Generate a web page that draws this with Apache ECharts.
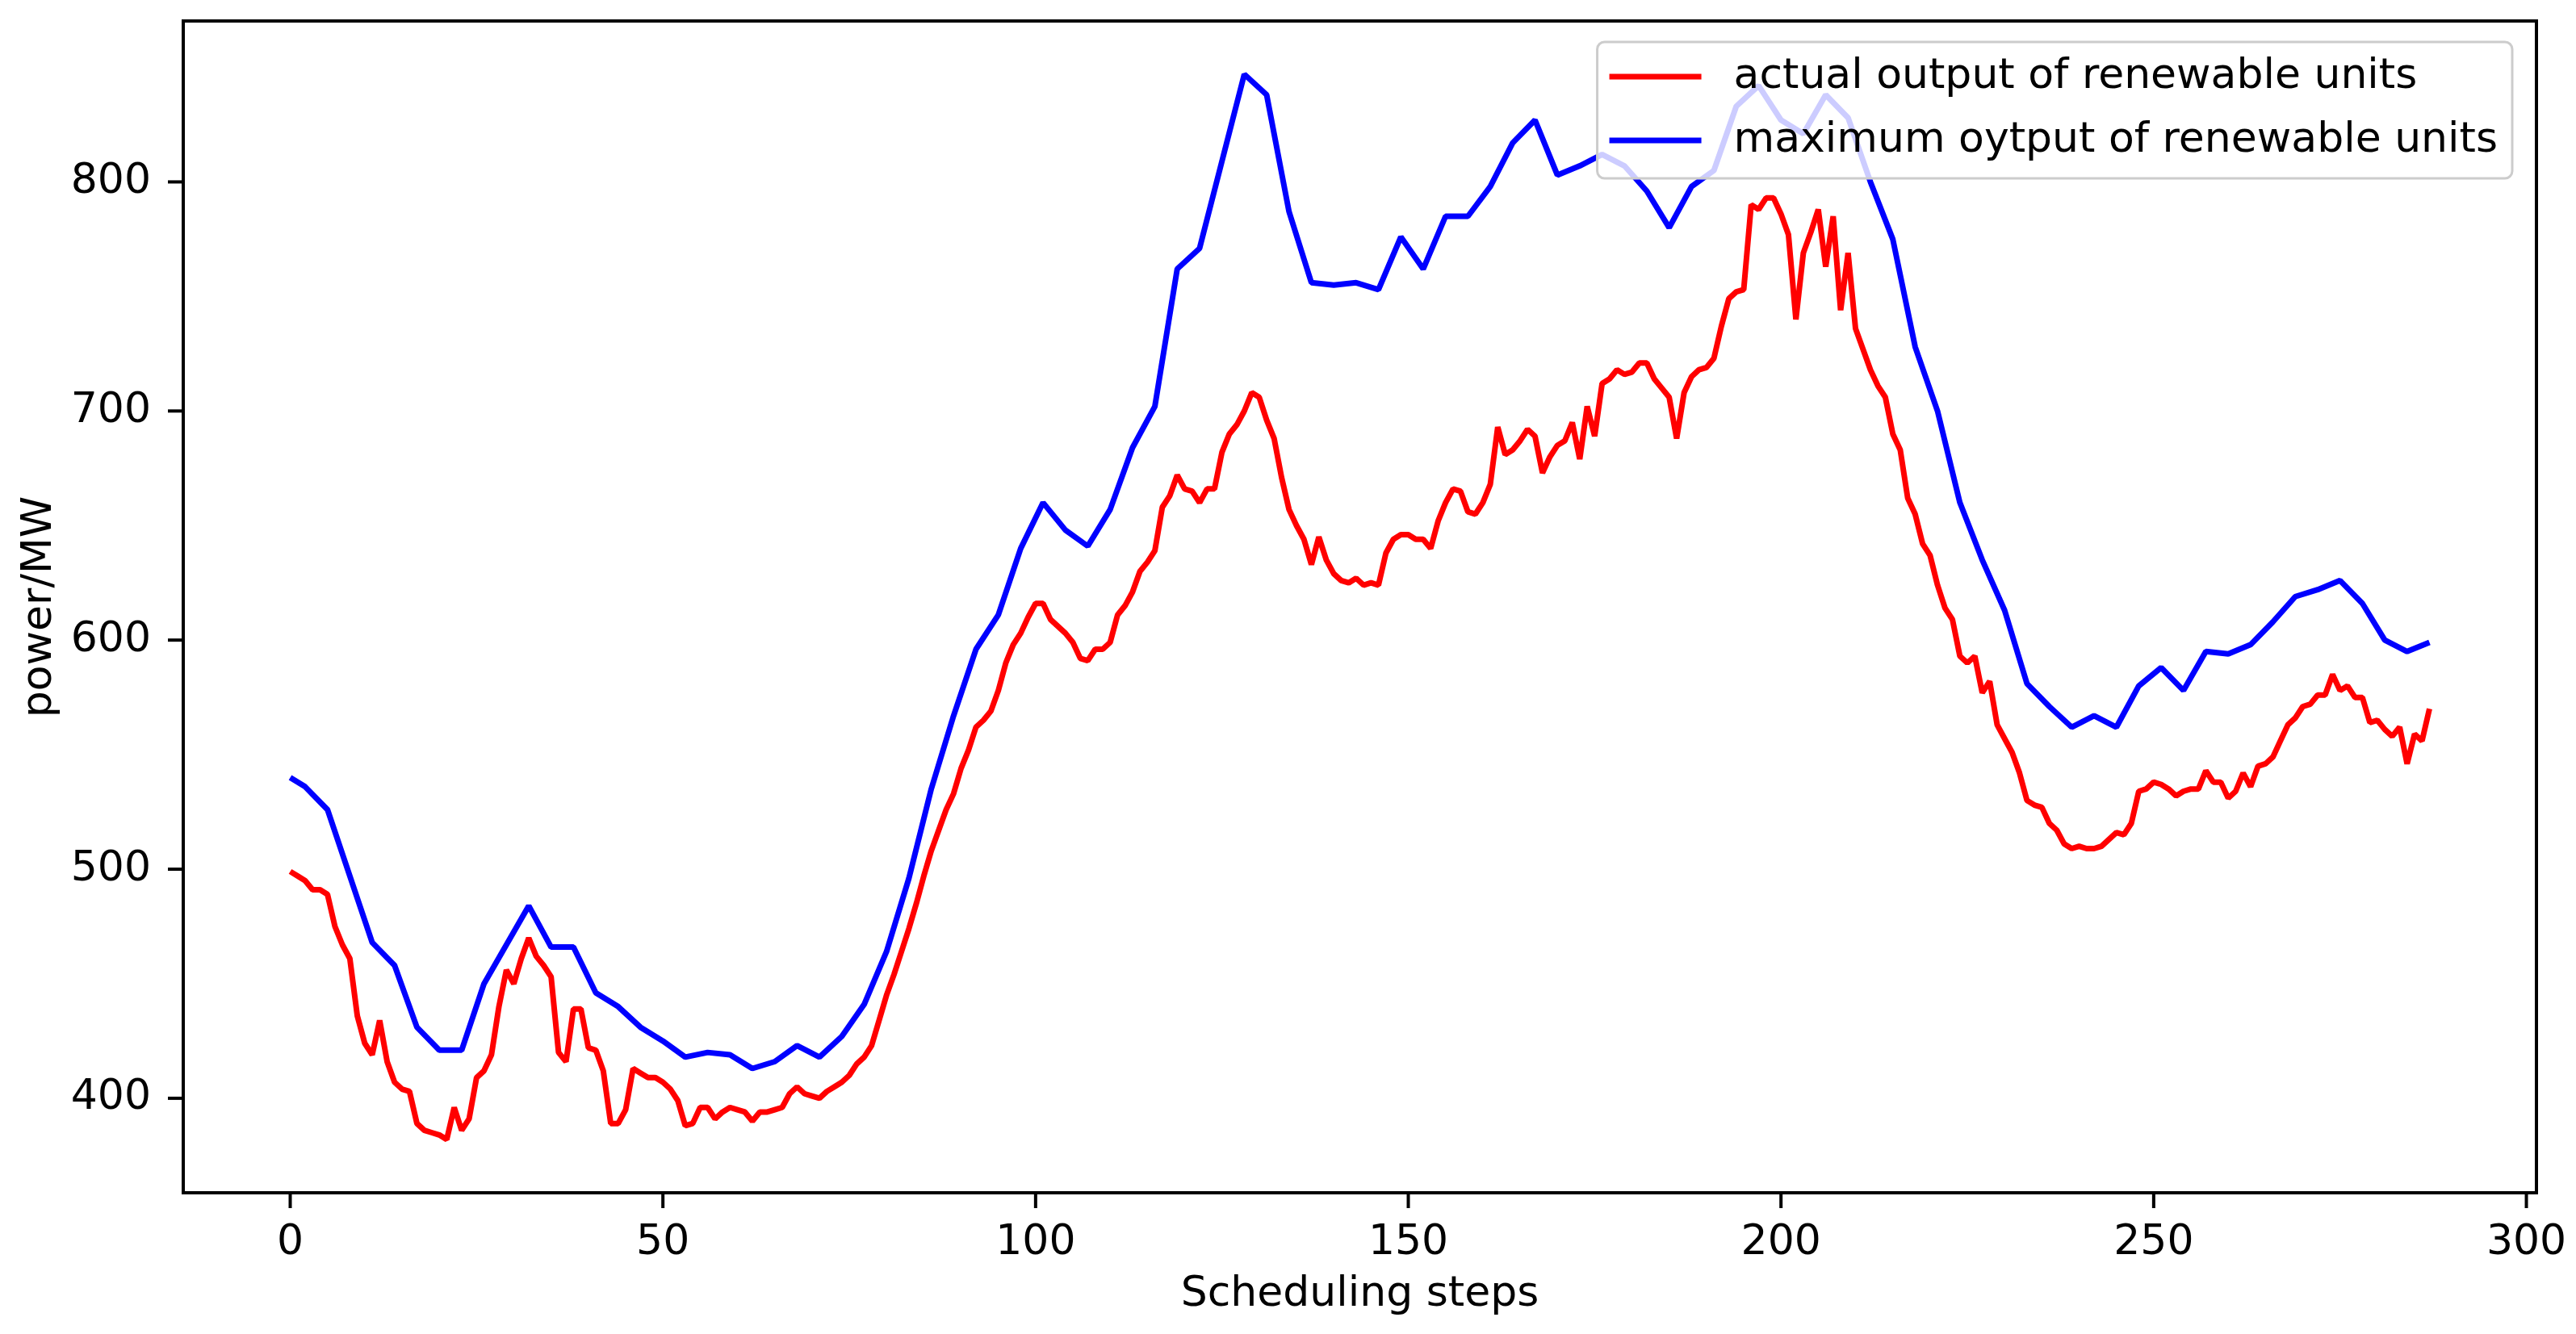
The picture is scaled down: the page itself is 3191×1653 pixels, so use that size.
<!DOCTYPE html>
<html>
<head>
<meta charset="utf-8">
<script src="https://cdn.jsdelivr.net/npm/echarts@6/dist/echarts.min.js"></script>
<style>
  html, body { margin: 0; background: #fff; }
  #chart { width: 3191px; height: 1653px; }
</style>
</head>
<body>
<div id="chart"></div>
<script>
// actual output of renewable units, one value per scheduling step (0..287)
const actualOutput = [
  499, 497, 495, 491, 491, 489, 475, 467, 461, 436,
  424, 419, 434, 416, 407, 404, 403, 389, 386, 385,
  384, 382, 396, 386, 391, 409, 412, 419, 440, 456,
  450, 461, 470, 462, 458, 453, 420, 416, 439, 439,
  422, 421, 412, 389, 389, 395, 413, 411, 409, 409,
  407, 404, 399, 388, 389, 396, 396, 391, 394, 396,
  395, 394, 390, 394, 394, 395, 396, 402, 405, 402,
  401, 400, 403, 405, 407, 410, 415, 418, 423, 434,
  445, 454, 464, 474, 485, 497, 508, 517, 526, 533,
  544, 552, 562, 565, 569, 578, 590, 598, 603, 610,
  616, 616, 609, 606, 603, 599, 592, 591, 596, 596,
  599, 611, 615, 621, 630, 634, 639, 658, 663, 672,
  666, 665, 660, 666, 666, 682, 690, 694, 700, 708,
  706, 696, 688, 671, 657, 650, 644, 633, 645, 635,
  629, 626, 625, 627, 624, 625, 624, 638, 644, 646,
  646, 644, 644, 640, 652, 660, 666, 665, 656, 655,
  660, 668, 693, 681, 683, 687, 692, 689, 673, 680,
  685, 687, 695, 679, 702, 689, 712, 714, 718, 716,
  717, 721, 721, 714, 710, 706, 688, 708, 715, 718,
  719, 723, 737, 749, 752, 753, 790, 788, 793, 793,
  786, 777, 740, 769, 778, 788, 763, 785, 744, 769,
  736, 727, 718, 711, 706, 690, 683, 662, 655, 642,
  637, 624, 614, 609, 593, 590, 593, 577, 582, 563,
  557, 551, 542, 530, 528, 527, 520, 517, 511, 509,
  510, 509, 509, 510, 513, 516, 515, 520, 534, 535,
  538, 537, 535, 532, 534, 535, 535, 543, 538, 538,
  531, 534, 542, 536, 545, 546, 549, 556, 563, 566,
  571, 572, 576, 576, 585, 578, 580, 575, 575, 564,
  565, 561, 558, 562, 546, 559, 556, 570
]

// maximum output: the line only bends at these steps
const maxSteps = [
  0, 2, 5, 11, 14, 17, 20, 23, 26, 32, 35, 38, 41, 44, 47, 50, 53, 56, 59, 62,
  65, 68, 71, 74, 77, 80, 83, 86, 89, 92, 95, 98, 101, 104, 107, 110, 113, 116, 119, 122,
  128, 131, 134, 137, 140, 143, 146, 149, 152, 155, 158, 161, 164, 167, 170, 173, 176, 179, 182, 185,
  188, 191, 194, 197, 200, 203, 206, 209, 212, 215, 218, 221, 224, 227, 230, 233, 236, 239, 242, 245,
  248, 251, 254, 257, 260, 263, 266, 269, 272, 275, 278, 281, 284, 287
]
const maxOutput = [
  540, 536, 526, 468, 458, 431, 421, 421, 450, 484, 466, 466, 446, 440, 431, 425, 418, 420, 419, 413,
  416, 423, 418, 427, 441, 464, 496, 535, 567, 596, 611, 640, 660, 648, 641, 657, 684, 702, 762, 771,
  847, 838, 787, 756, 755, 756, 753, 776, 762, 785, 785, 798, 817, 827, 803, 807, 812, 807, 796, 780,
  798, 805, 833, 842, 827, 821, 838, 828, 800, 775, 728, 700, 660, 635, 613, 581, 571, 562, 567, 562,
  580, 588, 578, 595, 594, 598, 608, 619, 622, 626, 616, 600, 595, 599
]

const xTicks = [0, 50, 100, 150, 200, 250, 300]
const yTicks = [400, 500, 600, 700, 800]
const xRange = [-14.35, 301.35]
const yRange = [358.75, 870.25]

const font = 'DejaVu Sans'
const fontSize = 52
const tickLen = 19

const chart = echarts.init(document.getElementById('chart'))

// outward tick marks (native axisTick doesn't show here), placed via api.coord
function tickSeries(values, vertical) {
  return {
    type: 'custom',
    silent: true,
    clip: false,
    z: 5,
    data: values.map(v => [v]),
    renderItem: (params, api) => {
      const p = vertical
        ? api.coord([xRange[0], api.value(0)])
        : api.coord([api.value(0), yRange[0]])
      const shape = vertical
        ? {x1: p[0] - tickLen, y1: p[1], x2: p[0], y2: p[1]}
        : {x1: p[0], y1: p[1], x2: p[0], y2: p[1] + tickLen}
      return {type: 'line', shape: shape, style: {stroke: '#000', lineWidth: 4}}
    }
  }
}

chart.setOption({
  animation: false,
  backgroundColor: '#fff',
  grid: {
    left: 227,
    right: 49,
    top: 26,
    bottom: 175,
    show: true,
    borderColor: '#000',
    borderWidth: 4,
    backgroundColor: 'transparent'
  },
  legend: {
    right: 79,
    top: 52,
    orient: 'vertical',
    icon: 'rect',
    itemWidth: 114,
    itemHeight: 7,
    itemGap: 27,
    padding: [17, 18, 21, 15],
    backgroundColor: 'rgba(255,255,255,0.8)',
    borderColor: '#cccccc',
    borderWidth: 3,
    borderRadius: 9,
    textStyle: {fontFamily: font, fontSize: fontSize, color: '#000', padding: [0, 0, 0, 35]},
    data: ['actual output of renewable units', 'maximum oytput of renewable units']
  },
  xAxis: {
    type: 'value',
    min: xRange[0],
    max: xRange[1],
    name: 'Scheduling steps',
    nameLocation: 'middle',
    nameGap: 100,
    nameTextStyle: {fontFamily: font, fontSize: fontSize, color: '#000'},
    axisLine: {show: true, onZero: false, lineStyle: {color: '#000', width: 4}},
    axisTick: {show: false},
    axisLabel: {customValues: xTicks, margin: 36, fontFamily: font, fontSize: fontSize, color: '#000'},
    splitLine: {show: false}
  },
  yAxis: {
    type: 'value',
    min: yRange[0],
    max: yRange[1],
    name: 'power/MW',
    nameLocation: 'middle',
    nameRotate: 90,
    nameGap: 152,
    nameTextStyle: {fontFamily: font, fontSize: fontSize, color: '#000'},
    axisLine: {show: true, onZero: false, lineStyle: {color: '#000', width: 4}},
    axisTick: {show: false},
    axisLabel: {customValues: yTicks, margin: 40, fontFamily: font, fontSize: fontSize, color: '#000'},
    splitLine: {show: false}
  },
  series: [
    {
      name: 'actual output of renewable units',
      type: 'line',
      symbol: 'none',
      color: '#ff0000',
      lineStyle: {width: 7, color: '#ff0000'},
      data: actualOutput.map((v, i) => [i, v])
    },
    {
      name: 'maximum oytput of renewable units',
      type: 'line',
      symbol: 'none',
      color: '#0000ff',
      lineStyle: {width: 7, color: '#0000ff'},
      data: maxSteps.map((s, i) => [s, maxOutput[i]])
    },
    tickSeries(xTicks, false),
    tickSeries(yTicks, true)
  ]
})
</script>
</body>
</html>
